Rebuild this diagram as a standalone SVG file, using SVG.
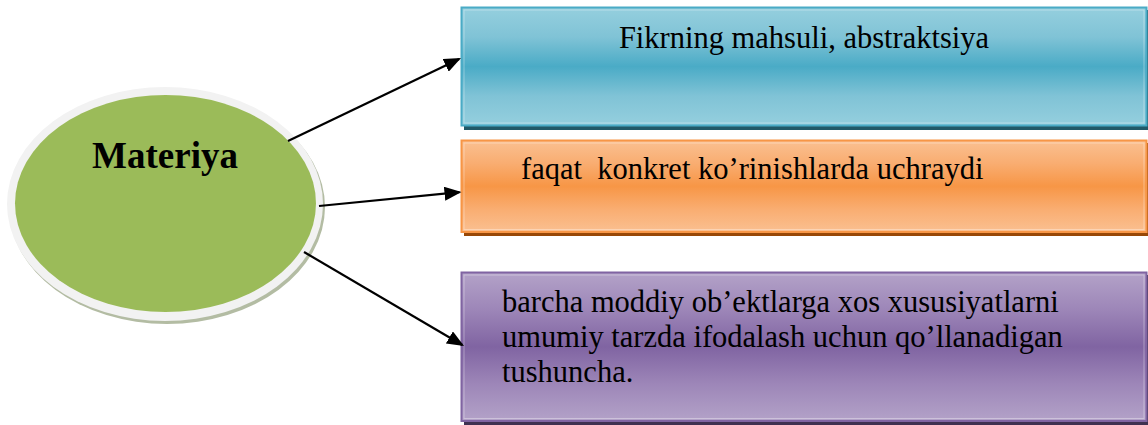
<svg xmlns="http://www.w3.org/2000/svg" width="1148" height="425" viewBox="0 0 1148 425">
  <defs>
    <linearGradient id="gBlue" x1="0" y1="0" x2="0" y2="1">
      <stop offset="0" stop-color="#95cfde"/>
      <stop offset="0.25" stop-color="#80c3d6"/>
      <stop offset="0.5" stop-color="#4aabc6"/>
      <stop offset="0.75" stop-color="#80c3d6"/>
      <stop offset="1" stop-color="#95cfde"/>
    </linearGradient>
    <linearGradient id="gOrange" x1="0" y1="0" x2="0" y2="1">
      <stop offset="0" stop-color="#fac091"/>
      <stop offset="0.25" stop-color="#f9ad71"/>
      <stop offset="0.5" stop-color="#f79646"/>
      <stop offset="0.75" stop-color="#f9ad71"/>
      <stop offset="1" stop-color="#fac091"/>
    </linearGradient>
    <linearGradient id="gPurple" x1="0" y1="0" x2="0" y2="1">
      <stop offset="0" stop-color="#b3a2c8"/>
      <stop offset="0.25" stop-color="#9d86b8"/>
      <stop offset="0.5" stop-color="#8064a2"/>
      <stop offset="0.75" stop-color="#9d86b8"/>
      <stop offset="1" stop-color="#b3a2c8"/>
    </linearGradient>
    <marker id="arrow" markerUnits="userSpaceOnUse" markerWidth="17" markerHeight="14" viewBox="0 0 17 14" refX="15" refY="7" orient="auto">
      <path d="M0,0 L17,7 L0,14 Z" fill="#000"/>
    </marker>
  </defs>
  <style>
    .body { font-family: "Liberation Serif", "Times New Roman", serif; font-size: 30.5px; fill: #000; }
    .title { font-family: "Liberation Serif", "Times New Roman", serif; font-size: 37px; font-weight: bold; fill: #000; }
    .conn { stroke: #000; stroke-width: 2.2; fill: none; marker-end: url(#arrow); }
    .inner { fill: none; stroke: #ffffff; stroke-opacity: 0.35; stroke-width: 1; }
  </style>

  <g id="node-materiya">
    <ellipse cx="167" cy="207" rx="158" ry="117" fill="#b3bca3"/>
    <ellipse cx="165" cy="204" rx="158" ry="117" fill="#f2f2f2"/>
    <ellipse cx="165.5" cy="203.5" rx="150.5" ry="108.5" fill="#9bbb59"/>
    <text class="title" x="165" y="168" text-anchor="middle">Materiya</text>
  </g>

  <g id="node-abstraktsiya">
    <rect x="464" y="10" width="684" height="120" fill="#215968"/>
    <rect x="461.5" y="7.5" width="685" height="118" fill="url(#gBlue)" stroke="#4aabc6" stroke-width="2"/>
    <rect x="464" y="10" width="680" height="113" class="inner"/>
    <text class="body" x="804" y="48" text-anchor="middle">Fikrning mahsuli, abstraktsiya</text>
  </g>

  <g id="node-konkret">
    <rect x="464" y="143" width="684" height="93" fill="#984807"/>
    <rect x="461.5" y="140.5" width="685" height="91.5" fill="url(#gOrange)" stroke="#f79646" stroke-width="2"/>
    <rect x="464" y="143" width="680" height="86.5" class="inner"/>
    <text class="body" x="521" y="179" xml:space="preserve">faqat  konkret ko’rinishlarda uchraydi</text>
  </g>

  <g id="node-tushuncha">
    <rect x="464" y="275" width="684" height="150" fill="#3f3151"/>
    <rect x="461.5" y="272.5" width="685" height="148.5" fill="url(#gPurple)" stroke="#8064a2" stroke-width="2"/>
    <rect x="464" y="275" width="680" height="143.5" class="inner"/>
    <text class="body" x="502" y="311.5">barcha moddiy ob’ektlarga xos xususiyatlarni</text>
    <text class="body" x="502" y="346.5">umumiy tarzda ifodalash uchun qo’llanadigan</text>
    <text class="body" x="502" y="381.5">tushuncha.</text>
  </g>

  <g id="connectors">
    <line class="conn" x1="288" y1="141" x2="459.2" y2="58.9"/>
    <line class="conn" x1="319" y1="206" x2="459.5" y2="192.2"/>
    <line class="conn" x1="304" y1="252" x2="462.3" y2="345"/>
  </g>
</svg>
